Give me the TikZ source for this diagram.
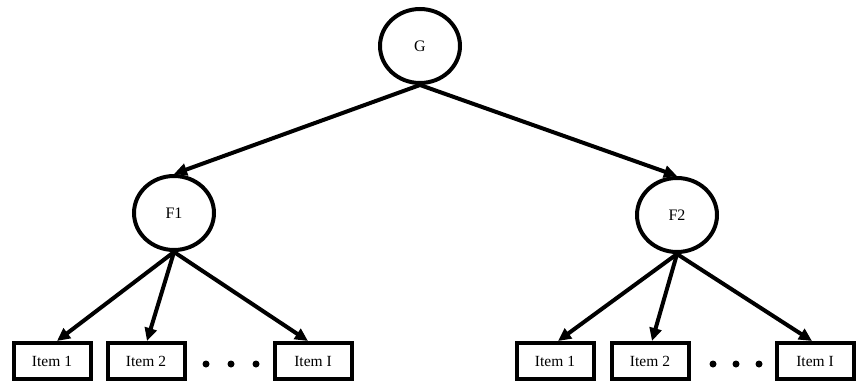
\documentclass[tikz,border=0pt]{standalone}
\usepackage{fontspec}
\setmainfont{Liberation Serif}
\usetikzlibrary{arrows.meta,shapes.geometric}
\begin{document}
\begin{tikzpicture}[x=1pt,y=-1pt,
  lat/.style={draw,line width=4pt,ellipse,minimum width=80pt,minimum height=74pt,inner sep=0pt,font=\fontsize{16}{18}\selectfont},
  item/.style={draw,line width=4pt,rectangle,minimum width=77pt,minimum height=36pt,inner sep=0pt,font=\fontsize{15.5}{18}\selectfont},
  edge/.style={line width=4pt,-{Triangle[length=13pt,width=12pt]}},
  dot/.style={circle,fill,inner sep=0pt,minimum size=7pt}]
\useasboundingbox (0,0) rectangle (857,383);
\node[lat] (G) at (420,46) {G};
\node[lat] (F1) at (174,213) {F1};
\node[lat] (F2) at (677,215) {F2};
\node[item] (a1) at (52,361) {Item 1};
\node[item] (a2) at (146,361) {Item 2};
\node[item] (aI) at (313,361) {Item I};
\node[item] (b1) at (555,361) {Item 1};
\node[item] (b2) at (650,361) {Item 2};
\node[item] (bI) at (815,361) {Item I};
\node[dot] (d1) at (206,364) {};
\node[dot] (d2) at (231,364) {};
\node[dot] (d3) at (256,364) {};
\node[dot] (e1) at (713,364) {};
\node[dot] (e2) at (736,364) {};
\node[dot] (e3) at (759,364) {};
\draw[edge] (G.south) -- (F1.north);
\draw[edge] (G.south) -- (F2.north);
\draw[edge] (F1.south) -- ([xshift=5pt]a1.north);
\draw[edge] (F1.south) -- ([xshift=1pt]a2.north);
\draw[edge] (F1.south) -- ([xshift=-5pt]aI.north);
\draw[edge] (F2.south) -- ([xshift=3pt]b1.north);
\draw[edge] (F2.south) -- ([xshift=2pt]b2.north);
\draw[edge] (F2.south) -- ([xshift=-3pt]bI.north);
\end{tikzpicture}
\end{document}
